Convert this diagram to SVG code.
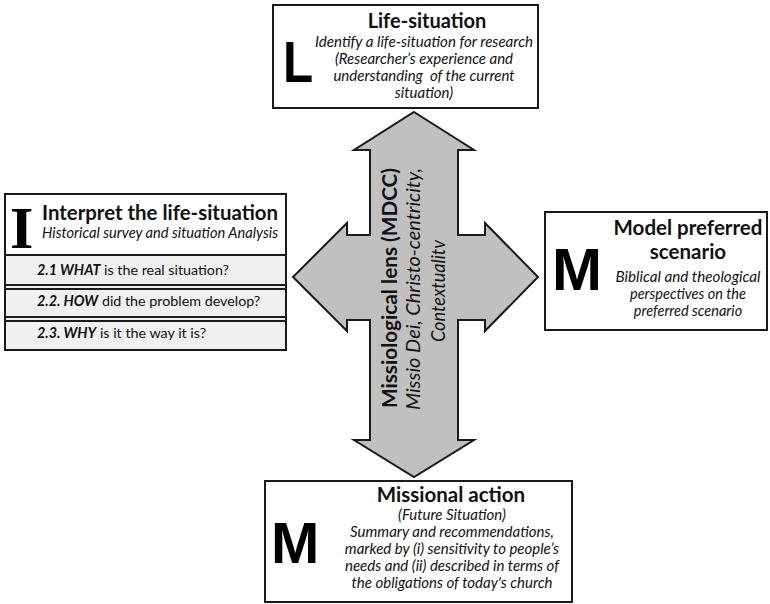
<svg xmlns="http://www.w3.org/2000/svg" width="770" height="604" viewBox="0 0 770 604">
<style>
.box{fill:#fff;stroke:#1a1a1a;stroke-width:2}
.row{fill:#f0f0f0;stroke:none}
.ln{stroke:#1a1a1a;stroke-width:2}
.t{font-family:Lato,"Liberation Sans",sans-serif;fill:#111}
.b{font-weight:bold}
.i{font-style:italic}
.big{font-family:"Liberation Sans",Arial,sans-serif;font-weight:bold;fill:#000}
.ser{font-family:"Liberation Serif","Times New Roman",serif;font-weight:bold;fill:#000}
.arrow{fill:#c0c0c0;stroke:#1a1a1a;stroke-width:2;stroke-linejoin:miter}
</style>
<g id="connectors">
<polygon class="arrow" points="414,112 474,150 458,150 458,235 485,235 485,223 538,277 485,331 485,320 458,320 458,440 474,440 414,477 354,440 370,440 370,320 347,320 347,331 293,277 347,223 347,235 370,235 370,150 354,150"/>
<text class="t b" transform="translate(397,288) rotate(-90)" text-anchor="middle" font-size="21" textLength="240" lengthAdjust="spacingAndGlyphs">Missiological lens (MDCC)</text>
<text class="t i" transform="translate(420,289) rotate(-90)" text-anchor="middle" font-size="20" textLength="242" lengthAdjust="spacingAndGlyphs">Missio Dei, Christo-centricity,</text>
<text class="t i" transform="translate(445,291) rotate(-90)" text-anchor="middle" font-size="20" textLength="102" lengthAdjust="spacingAndGlyphs">Contextualitv</text>
</g>
<g id="node-life-situation">
<rect class="box" x="273" y="5" width="265" height="103"/>
<text class="big" transform="translate(283,82) scale(0.85,1)" font-size="58">L</text>
<text class="t b" x="427" y="28" font-size="20" text-anchor="middle">Life-situation</text>
<text class="t i" x="424" y="47" font-size="15" text-anchor="middle" textLength="218" lengthAdjust="spacingAndGlyphs">Identify a life-situation for research</text>
<text class="t i" x="424" y="64" font-size="15" text-anchor="middle">(Researcher’s experience and</text>
<text class="t i" x="424" y="81" font-size="15" text-anchor="middle" xml:space="preserve">understanding  of the current</text>
<text class="t i" x="424" y="98" font-size="15" text-anchor="middle">situation)</text>
</g>
<g id="node-interpret">
<rect class="box" x="5" y="194" width="281" height="156"/>
<rect class="row" x="6" y="256" width="279" height="93"/>
<line class="ln" x1="5" y1="255" x2="286" y2="255"/>
<line class="ln" x1="5" y1="285" x2="286" y2="285"/>
<line class="ln" x1="5" y1="289" x2="286" y2="289"/>
<line class="ln" x1="5" y1="317" x2="286" y2="317"/>
<line class="ln" x1="5" y1="321" x2="286" y2="321"/>
<rect x="5" y="194" width="281" height="156" style="fill:none;stroke:#1a1a1a;stroke-width:2"/>
<text class="ser" x="10" y="248" font-size="60">I</text>
<text class="t b" x="42" y="220" font-size="20" textLength="236" lengthAdjust="spacingAndGlyphs">Interpret the life-situation</text>
<text class="t i" x="42" y="238" font-size="14.5" textLength="236" lengthAdjust="spacingAndGlyphs">Historical survey and situation Analysis</text>
<text class="t" x="37" y="275" font-size="14.3"><tspan class="b i">2.1 WHAT</tspan> is the real situation?</text>
<text class="t" x="37" y="306" font-size="14.3"><tspan class="b i">2.2. HOW</tspan> did the problem develop?</text>
<text class="t" x="37" y="338" font-size="14.3"><tspan class="b i">2.3. WHY</tspan> is it the way it is?</text>
</g>
<g id="node-model">
<rect class="box" x="545" y="212" width="222" height="118"/>
<text class="big" x="552" y="290" font-size="60">M</text>
<text class="t b" x="688" y="235" font-size="20.5" text-anchor="middle">Model preferred</text>
<text class="t b" x="688" y="259" font-size="20.5" text-anchor="middle">scenario</text>
<text class="t i" x="688" y="282" font-size="14.5" text-anchor="middle" textLength="145" lengthAdjust="spacingAndGlyphs">Biblical and theological</text>
<text class="t i" x="688" y="299" font-size="14.5" text-anchor="middle">perspectives on the</text>
<text class="t i" x="688" y="316" font-size="14.5" text-anchor="middle">preferred scenario</text>
</g>
<g id="node-missional">
<rect class="box" x="265" y="481" width="307" height="121"/>
<text class="big" x="271" y="563" font-size="58">M</text>
<text class="t b" x="451" y="502" font-size="20.5" text-anchor="middle">Missional action</text>
<text class="t i" x="452" y="520" font-size="15" text-anchor="middle">(Future Situation)</text>
<text class="t i" x="452" y="537" font-size="15" text-anchor="middle">Summary and recommendations,</text>
<text class="t i" x="452" y="554" font-size="15" text-anchor="middle">marked by (i) sensitivity to people’s</text>
<text class="t i" x="452" y="571" font-size="15" text-anchor="middle">needs and (ii) described in terms of</text>
<text class="t i" x="452" y="588" font-size="15" text-anchor="middle">the obligations of today's church</text>
</g>
</svg>
